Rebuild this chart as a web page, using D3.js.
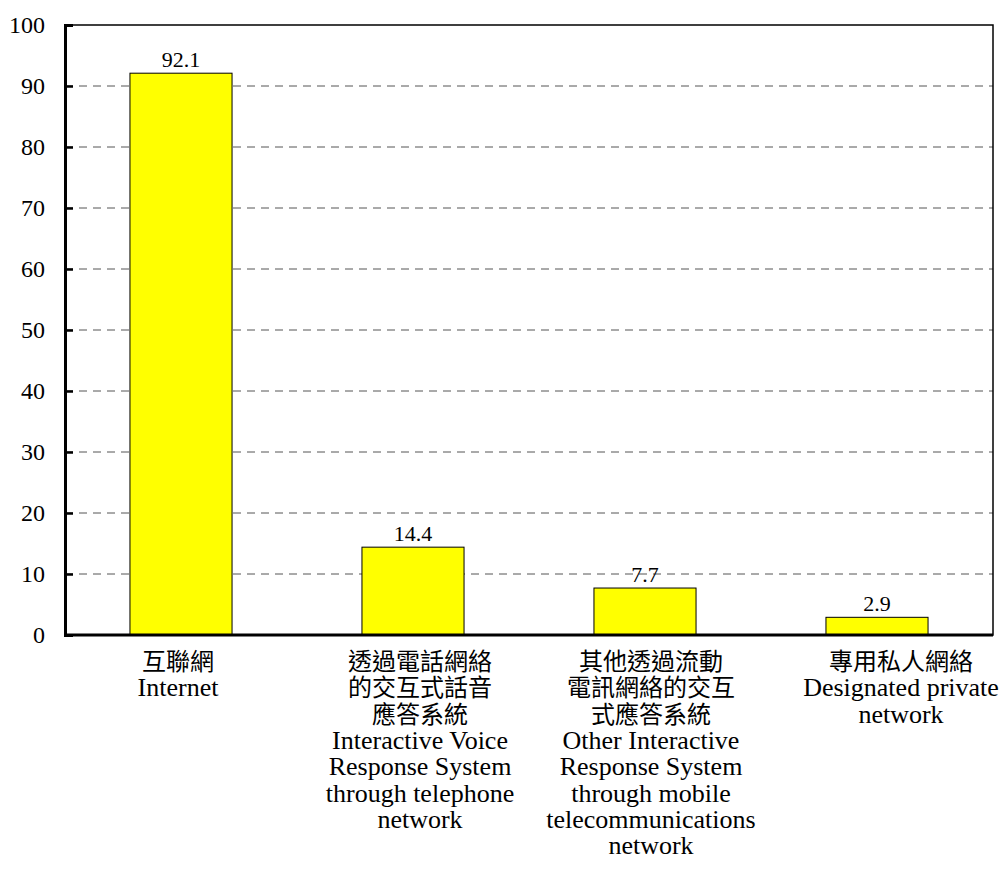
<!DOCTYPE html>
<html>
<head>
<meta charset="utf-8">
<script src="https://cdnjs.cloudflare.com/ajax/libs/d3/7.8.5/d3.min.js"></script>
<style>
  body { margin: 0; background: #fff; }
  .tick text { font-family: "Liberation Serif", "Times New Roman", serif; font-size: 24px; fill: #000; }
</style>
</head>
<body>
<div id="chart"></div>
<script>
// data
var categories = ["internet", "ivrs", "other", "private"];
var values = [92.1, 14.4, 7.7, 2.9];
var labelsZh = [["互聯網"], ["透過電話網絡", "的交互式話音", "應答系統"], ["其他透過流動", "電訊網絡的交互", "式應答系統"], ["專用私人網絡"]];
var labelsEn = [["Internet"],
  ["Interactive Voice", "Response System", "through telephone", "network"],
  ["Other Interactive", "Response System", "through mobile", "telecommunications", "network"],
  ["Designated private", "network"]];
var yTicks = [0, 10, 20, 30, 40, 50, 60, 70, 80, 90, 100];

// the label boxes in the original sit a little off the bar centres
var labelShift = [-3, 7, 6, 24];

var svgWidth = 1002, svgHeight = 872;
var margin = { top: 25, right: 9, bottom: 237, left: 65 };
var width = svgWidth - margin.left - margin.right;
var height = svgHeight - margin.top - margin.bottom;

var svg = d3.select("#chart").append("svg")
  .attr("width", svgWidth)
  .attr("height", svgHeight);

var g = svg.append("g")
  .attr("transform", `translate(${margin.left}, ${margin.top})`);

var x = d3.scaleBand()
  .domain(categories)
  .range([0, width])
  .paddingInner(0.56)
  .paddingOuter(0.28);

var y = d3.scaleLinear()
  .domain([0, 100])
  .range([height, 0]);

// dashed grid
g.selectAll("line.grid")
  .data(yTicks.filter(d => d > 0 && d < 100))
  .enter().append("line")
  .attr("class", "grid")
  .attr("x1", 0).attr("x2", width)
  .attr("y1", d => y(d)).attr("y2", d => y(d))
  .attr("stroke", "#555")
  .attr("stroke-width", 1)
  .attr("stroke-dasharray", "8,6");

// bars
g.selectAll("rect.bar")
  .data(values)
  .enter().append("rect")
  .attr("class", "bar")
  .attr("x", (d, i) => x(categories[i]))
  .attr("y", d => y(d))
  .attr("width", x.bandwidth())
  .attr("height", d => height - y(d))
  .attr("fill", "#ffff00")
  .attr("stroke", "#000")
  .attr("stroke-width", 1);

// value labels
g.selectAll("text.val")
  .data(values)
  .enter().append("text")
  .attr("class", "val")
  .attr("x", (d, i) => x(categories[i]) + x.bandwidth() / 2)
  .attr("y", d => y(d) - 6)
  .attr("text-anchor", "middle")
  .attr("font-family", "'Liberation Serif', 'Times New Roman', serif")
  .attr("font-size", 22)
  .text(d => d.toFixed(1));

// frame
g.append("rect")
  .attr("x", 0).attr("y", 0)
  .attr("width", width).attr("height", height)
  .attr("fill", "none")
  .attr("stroke", "#000")
  .attr("stroke-width", 1.5);

// y axis, ticks pointing inward
var leftAxis = d3.axisLeft(y).tickValues(yTicks).tickSize(-8).tickPadding(20);
var ya = g.append("g").call(leftAxis);
ya.select(".domain").attr("stroke-width", 3);
ya.selectAll(".tick line").attr("stroke-width", 2.5);

g.append("line")
  .attr("x1", 0).attr("x2", width)
  .attr("y1", height).attr("y2", height)
  .attr("stroke", "#000").attr("stroke-width", 3);

// category labels
var lineH = 26.3;
categories.forEach(function(c, i) {
  var cx = x(c) + x.bandwidth() / 2 + labelShift[i];
  var t = g.append("text")
    .attr("x", cx)
    .attr("y", height + 35)
    .attr("text-anchor", "middle");
  labelsZh[i].forEach(function(s, k) {
    t.append("tspan")
      .attr("x", cx)
      .attr("dy", k === 0 ? 0 : lineH)
      .attr("font-family", "'Noto Sans CJK TC', sans-serif")
      .attr("font-size", 24)
      .text(s);
  });
  labelsEn[i].forEach(function(s) {
    t.append("tspan")
      .attr("x", cx)
      .attr("dy", lineH)
      .attr("font-family", "'Liberation Serif', 'Times New Roman', serif")
      .attr("font-size", 26)
      .text(s);
  });
});
</script>
</body>
</html>
